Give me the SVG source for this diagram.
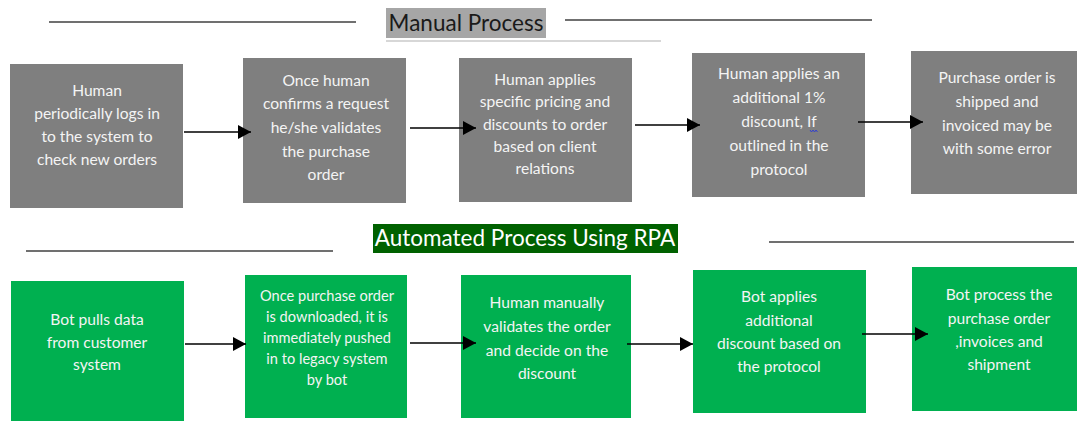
<svg xmlns="http://www.w3.org/2000/svg" width="1078" height="421" viewBox="0 0 1078 421">
  <defs>
    <marker id="arrow" markerWidth="14" markerHeight="14" refX="13" refY="7" orient="auto" markerUnits="userSpaceOnUse">
      <path d="M0,0 L13,7 L0,14 Z" fill="#000"/>
    </marker>
    <style>
      .rule { stroke: #404040; stroke-width: 1.3; }
      .manual { fill: #7f7f7f; }
      .auto { fill: #00b050; }
      .lbl { font-family: Lato, "Liberation Sans", sans-serif; font-size: 15.6px; fill: #f4f4f4; text-anchor: middle; }
      .sm { font-size: 14.6px; }
      .conn { stroke: #000; stroke-width: 1.5; fill: none; marker-end: url(#arrow); }
      .title { font-family: Lato, "Liberation Sans", sans-serif; font-size: 22.5px; }
    </style>
  </defs>

  <rect width="1078" height="421" fill="#fff"/>

  <!-- Section heading: manual flow -->
  <g id="heading-manual">
    <line class="rule" x1="49" y1="22" x2="356" y2="22"/>
    <line class="rule" x1="565" y1="20" x2="872" y2="20"/>
    <rect x="386" y="8" width="160" height="30" fill="#a6a6a6"/>
    <line x1="386" y1="41" x2="661" y2="41" stroke="#b0b0b0" stroke-width="1.2"/>
    <text class="title" x="466" y="31" text-anchor="middle" fill="#1a1a1a">Manual Process</text>
  </g>

  <!-- Section heading: automated flow -->
  <g id="heading-rpa">
    <line class="rule" x1="26" y1="251" x2="333" y2="251"/>
    <line class="rule" x1="769" y1="242" x2="1074" y2="242"/>
    <rect x="373" y="224" width="305" height="29" fill="#006100"/>
    <text class="title" x="525" y="246" text-anchor="middle" fill="#fff">Automated Process Using RPA</text>
  </g>

  <!-- Manual process steps -->
  <g id="m1">
    <rect class="manual" x="10" y="64" width="173" height="144"/>
    <text class="lbl" x="97" y="96">Human</text>
    <text class="lbl" x="97" y="119">periodically logs in</text>
    <text class="lbl" x="97" y="142">to the system to</text>
    <text class="lbl" x="97" y="165">check new orders</text>
  </g>
  <g id="m2">
    <rect class="manual" x="243" y="58" width="163" height="145"/>
    <text class="lbl" x="326" y="86">Once human</text>
    <text class="lbl" x="326" y="109">confirms a request</text>
    <text class="lbl" x="326" y="133">he/she validates</text>
    <text class="lbl" x="326" y="157">the purchase</text>
    <text class="lbl" x="326" y="180">order</text>
  </g>
  <g id="m3">
    <rect class="manual" x="459" y="58" width="173" height="144"/>
    <text class="lbl" x="545" y="85">Human applies</text>
    <text class="lbl" x="545" y="107">specific pricing and</text>
    <text class="lbl" x="545" y="130">discounts to order</text>
    <text class="lbl" x="545" y="152">based on client</text>
    <text class="lbl" x="545" y="174">relations</text>
  </g>
  <g id="m4">
    <rect class="manual" x="692" y="53" width="173" height="144"/>
    <text class="lbl" x="779" y="79">Human applies an</text>
    <text class="lbl" x="779" y="103">additional 1%</text>
    <text class="lbl" x="779" y="127">discount, If</text>
    <path d="M810,130 l1.5,2 l1.5,-2 l1.5,2 l1.5,-2 l1.5,2" stroke="#2a3bd6" stroke-width="0.9" fill="none"/>
    <text class="lbl" x="779" y="151">outlined in the</text>
    <text class="lbl" x="779" y="175">protocol</text>
  </g>
  <g id="m5">
    <rect class="manual" x="911" y="51" width="166" height="143"/>
    <text class="lbl" x="997" y="83">Purchase order is</text>
    <text class="lbl" x="997" y="107">shipped and</text>
    <text class="lbl" x="997" y="131">invoiced may be</text>
    <text class="lbl" x="997" y="154">with some error</text>
  </g>

  <!-- Automated process steps -->
  <g id="a1">
    <rect class="auto" x="11" y="281" width="173" height="140"/>
    <text class="lbl" x="97" y="325">Bot pulls data</text>
    <text class="lbl" x="97" y="348">from customer</text>
    <text class="lbl" x="97" y="370">system</text>
  </g>
  <g id="a2">
    <rect class="auto" x="245" y="275" width="162" height="143"/>
    <text class="lbl sm" x="327" y="301">Once purchase order</text>
    <text class="lbl sm" x="327" y="322">is downloaded, it is</text>
    <text class="lbl sm" x="327" y="343">immediately pushed</text>
    <text class="lbl sm" x="327" y="364">in to legacy system</text>
    <text class="lbl sm" x="327" y="385">by bot</text>
  </g>
  <g id="a3">
    <rect class="auto" x="461" y="275" width="170" height="143"/>
    <text class="lbl" x="547" y="308">Human manually</text>
    <text class="lbl" x="547" y="332">validates the order</text>
    <text class="lbl" x="547" y="356">and decide on the</text>
    <text class="lbl" x="547" y="379">discount</text>
  </g>
  <g id="a4">
    <rect class="auto" x="693" y="270" width="173" height="143"/>
    <text class="lbl" x="779" y="302">Bot applies</text>
    <text class="lbl" x="779" y="326">additional</text>
    <text class="lbl" x="779" y="349">discount based on</text>
    <text class="lbl" x="779" y="372">the protocol</text>
  </g>
  <g id="a5">
    <rect class="auto" x="912" y="267" width="165" height="144"/>
    <text class="lbl" x="999" y="300">Bot process the</text>
    <text class="lbl" x="999" y="324">purchase order</text>
    <text class="lbl" x="999" y="347">,invoices and</text>
    <text class="lbl" x="999" y="370">shipment</text>
  </g>

  <!-- Connectors -->
  <g id="connectors">
    <line class="conn" x1="184" y1="132" x2="251" y2="132"/>
    <line class="conn" x1="410" y1="128" x2="476" y2="128"/>
    <line class="conn" x1="635" y1="125" x2="700" y2="125"/>
    <line class="conn" x1="858" y1="122" x2="923" y2="122"/>
    <line class="conn" x1="185" y1="344" x2="246" y2="344"/>
    <line class="conn" x1="410" y1="343" x2="476" y2="343"/>
    <line class="conn" x1="627" y1="344" x2="693" y2="344"/>
    <line class="conn" x1="862" y1="334" x2="928" y2="334"/>
  </g>
</svg>
